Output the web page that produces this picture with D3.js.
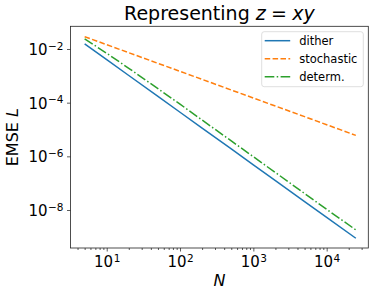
<!DOCTYPE html>
<html>
<head>
<meta charset="utf-8">
<script src="https://cdn.jsdelivr.net/npm/d3@7"></script>
<style>
  body { margin: 0; background: #fff; }
  text { font-family: "DejaVu Sans", sans-serif; fill: #000; }
</style>
</head>
<body>
<div id="chart"></div>
<script>
// values
var sizes      = [5, 10, 20, 50, 100, 200, 500, 1000, 2000, 5000, 10000, 25000];
var dither     = [1.55e-2, 3.99e-3, 1.03e-3, 1.71e-4, 4.39e-5, 1.13e-5, 1.88e-6, 4.84e-7, 1.25e-7, 2.07e-8, 5.33e-9, 8.87e-10];
var stochastic = [2.88e-2, 1.45e-2, 7.28e-3, 2.92e-3, 1.47e-3, 7.38e-4, 2.96e-4, 1.49e-4, 7.48e-5, 3.01e-5, 1.51e-5, 6.04e-6];
var determ     = [2.40e-2, 6.93e-3, 1.91e-3, 3.33e-4, 8.77e-5, 2.25e-5, 3.75e-6, 9.66e-7, 2.49e-7, 4.13e-8, 1.06e-8, 1.81e-9];
var seriesNames = ["dither", "stochastic", "determ."];
var xTicks = [10, 100, 1000, 10000];
var yTicks = [1e-2, 1e-4, 1e-6, 1e-8];

var width = 375, height = 297;
var pLeft = 70.5, pRight = 368.3, pTop = 26.3, pBottom = 248;

var svg = d3.select("#chart").append("svg")
    .attr("width", width)
    .attr("height", height);

var x = d3.scaleLog()
    .domain([Math.pow(10, 0.506), Math.pow(10, 4.568)])
    .range([pLeft, pRight]);

var y = d3.scaleLog()
    .domain([Math.pow(10, -9.416), Math.pow(10, -1.154)])
    .range([pBottom, pTop]);

var styles = [
  { color: "#1f77b4", dash: null },
  { color: "#ff7f0e", dash: "5.5,2.4" },
  { color: "#2ca02c", dash: "9.6,2.4,1.5,2.4" }
];
var allSeries = [dither, stochastic, determ];

var line = d3.line()
    .x(function(d, i) { return x(sizes[i]); })
    .y(function(d) { return y(d); });

svg.append("g").selectAll("path")
    .data(allSeries)
  .enter().append("path")
    .attr("d", line)
    .attr("fill", "none")
    .attr("stroke", function(d, i) { return styles[i].color; })
    .attr("stroke-width", 1.5)
    .attr("stroke-dasharray", function(d, i) { return styles[i].dash; });

// axes
function supLabel(sel, exp) {
  sel.text(null);
  sel.append("tspan").text("10");
  sel.append("tspan").attr("dx", 0.5).attr("dy", "-0.5em").attr("font-size", "10.5px").text(exp);
}

var minorX = [];
[1, 10, 100, 1000, 10000].forEach(function(p) {
  for (var k = 2; k < 10; k++) {
    var v = p * k;
    if (v >= x.domain()[0] && v <= x.domain()[1]) minorX.push(v);
  }
});

var xAxis = svg.append("g")
    .attr("transform", "translate(0," + pBottom + ")")
    .call(d3.axisBottom(x).tickValues(xTicks).tickSize(3.5).tickFormat(""));
xAxis.append("g").call(d3.axisBottom(x).tickValues(minorX).tickSize(2).tickFormat(""));
xAxis.selectAll(".domain").remove();
xAxis.selectAll("line").attr("stroke", "#333").attr("stroke-width", 0.8);
xAxis.selectAll("g.tick").filter(function(d) { return xTicks.indexOf(d) >= 0; })
    .append("text")
    .attr("y", 18.8)
    .attr("text-anchor", "middle")
    .attr("font-size", "15px")
    .each(function(d) { supLabel(d3.select(this), String(Math.round(Math.log10(d)))); });

var yAxis = svg.append("g")
    .attr("transform", "translate(" + pLeft + ",0)")
    .call(d3.axisLeft(y).tickValues(yTicks).tickSize(3.5).tickFormat(""));
yAxis.selectAll(".domain").remove();
yAxis.selectAll("line").attr("stroke", "#333").attr("stroke-width", 0.8);
yAxis.selectAll("g.tick")
    .append("text")
    .attr("x", -7)
    .attr("y", 5.5)
    .attr("text-anchor", "end")
    .attr("font-size", "15px")
    .each(function(d) { supLabel(d3.select(this), "\u2212" + Math.round(-Math.log10(d))); });

// frame
svg.append("rect")
    .attr("x", pLeft).attr("y", pTop)
    .attr("width", pRight - pLeft).attr("height", pBottom - pTop)
    .attr("fill", "none")
    .attr("stroke", "#222")
    .attr("stroke-width", 0.8);

// title and labels
var title = svg.append("text")
    .attr("x", (pLeft + pRight) / 2)
    .attr("y", 20)
    .attr("text-anchor", "middle")
    .attr("font-size", "19px");
title.append("tspan").text("Representing ");
title.append("tspan").attr("font-style", "italic").text("z");
title.append("tspan").attr("dx", 1.5).text("\u2009=\u2009");
title.append("tspan").attr("dx", 1.5).attr("font-style", "italic").text("xy");

svg.append("text")
    .attr("x", (pLeft + pRight) / 2)
    .attr("y", 286)
    .attr("text-anchor", "middle")
    .attr("font-size", "16px")
    .attr("font-style", "italic")
    .text("N");

var ylab = svg.append("text")
    .attr("transform", "translate(18.3," + ((pTop + pBottom) / 2) + ") rotate(-90)")
    .attr("text-anchor", "middle")
    .attr("font-size", "16px");
ylab.append("tspan").text("EMSE ");
ylab.append("tspan").attr("font-style", "italic").text("L");

// legend
var legend = svg.append("g").attr("transform", "translate(261.7,31.7)");
legend.append("rect")
    .attr("width", 101.6).attr("height", 55)
    .attr("rx", 2.5)
    .attr("fill", "#fff")
    .attr("fill-opacity", 0.8)
    .attr("stroke", "#d6d6d6")
    .attr("stroke-width", 0.8);
var rows = legend.selectAll("g.row")
    .data(seriesNames)
  .enter().append("g")
    .attr("class", "row")
    .attr("transform", function(d, i) { return "translate(0," + (9 + i * 18) + ")"; });
rows.append("line")
    .attr("x1", 3).attr("x2", 28.5)
    .attr("stroke", function(d, i) { return styles[i].color; })
    .attr("stroke-width", 1.5)
    .attr("stroke-dasharray", function(d, i) { return styles[i].dash; });
rows.append("text")
    .attr("x", 37.5)
    .attr("y", 4)
    .attr("font-size", "11.5px")
    .text(function(d) { return d; });
</script>
</body>
</html>
